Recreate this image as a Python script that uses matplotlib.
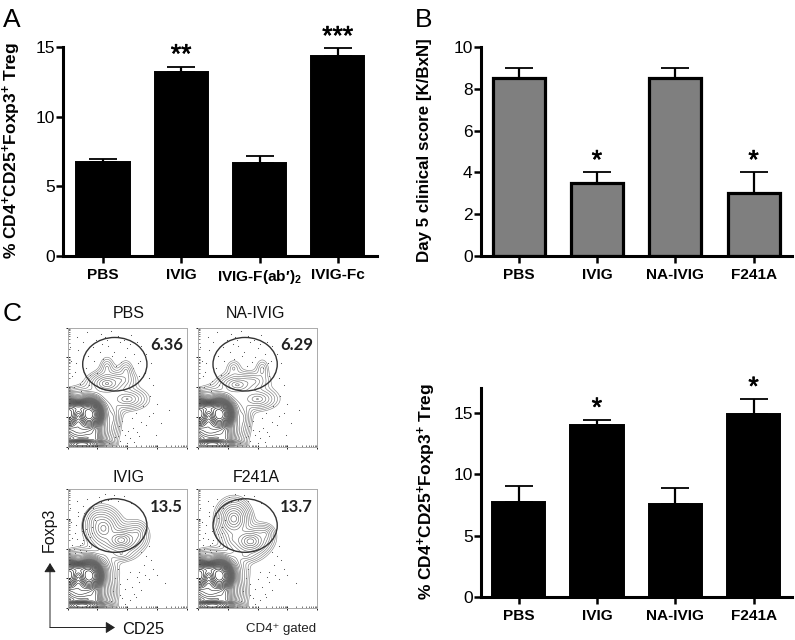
import numpy as np
import matplotlib
matplotlib.use("Agg")
import matplotlib.pyplot as plt
from matplotlib.patches import Ellipse
import matplotlib.patheffects as pe

plt.rcParams['font.family'] = ['Liberation Sans', 'DejaVu Sans']
plt.rcParams['mathtext.fontset'] = 'custom'
plt.rcParams['mathtext.rm'] = 'Liberation Sans:bold'
plt.rcParams['mathtext.bf'] = 'Liberation Sans:bold'
plt.rcParams['mathtext.default'] = 'rm'

W, H = 795, 640

# ---- bar data ----
a_labels = ["PBS", "IVIG", "IVIG-F(ab\u2032)$_{2}$", "IVIG-Fc"]
a_values = [6.75, 13.2, 6.65, 14.35]
a_errors = [0.2, 0.4, 0.5, 0.55]
a_stars = ["", "**", "", "***"]

b_labels = ["PBS", "IVIG", "NA-IVIG", "F241A"]
b_values = [8.5, 3.5, 8.5, 3.0]
b_errors = [0.5, 0.5, 0.5, 1.0]
b_stars = ["", "*", "", "*"]

d_labels = ["PBS", "IVIG", "NA-IVIG", "F241A"]
d_values = [7.7, 13.95, 7.55, 14.85]
d_errors = [1.3, 0.45, 1.35, 1.25]
d_stars = ["", "*", "", "*"]

# ---- flow panels: (x, y, sx, sy, amplitude) density peaks ----
neg_peaks = [(0.00, 0.27, 0.04, 0.045, 200), (0.18, 0.27, 0.04, 0.045, 200),
             (0.09, 0.32, 0.06, 0.025, 60), (0.10, 0.15, 0.08, 0.055, 14),
             (0.12, 0.02, 0.07, 0.018, 60), (0.22, 0.07, 0.035, 0.05, 5),
             (0.12, 0.30, 0.11, 0.075, 0.8), (0.17, 0.10, 0.09, 0.09, 0.8)]
pbs_peaks = [(0.33, 0.53, 0.09, 0.055, 0.6), (0.33, 0.66, 0.05, 0.08, 0.08),
             (0.49, 0.63, 0.05, 0.08, 0.08), (0.44, 0.56, 0.10, 0.055, 0.1),
             (0.50, 0.40, 0.11, 0.06, 0.25), (0.37, 0.24, 0.05, 0.09, 0.15)]
na_peaks = [(0.33, 0.52, 0.10, 0.055, 0.4), (0.30, 0.66, 0.06, 0.07, 0.05),
            (0.54, 0.65, 0.05, 0.08, 0.06), (0.46, 0.55, 0.10, 0.055, 0.1),
            (0.50, 0.40, 0.11, 0.06, 0.25), (0.37, 0.24, 0.05, 0.09, 0.15)]
ivig_peaks = [(0.45, 0.57, 0.08, 0.055, 1.2), (0.30, 0.67, 0.08, 0.09, 0.7),
              (0.58, 0.62, 0.07, 0.08, 0.15), (0.24, 0.74, 0.06, 0.07, 0.08),
              (0.45, 0.45, 0.10, 0.05, 0.08), (0.30, 0.34, 0.04, 0.08, 0.15)]
f241_peaks = [(0.30, 0.75, 0.07, 0.08, 1.2), (0.44, 0.56, 0.08, 0.06, 1.2),
              (0.56, 0.62, 0.06, 0.06, 0.15), (0.30, 0.58, 0.08, 0.08, 0.1),
              (0.40, 0.44, 0.10, 0.05, 0.08), (0.30, 0.34, 0.04, 0.08, 0.15)]

top_dots_x = [0.03,0.06,0.09,0.12,0.05,0.15,0.08,0.02,0.11,0.17,0.04,0.13,0.07,0.19,0.10,0.16,0.21,0.24,0.18,0.28,
              0.31,0.36,0.42,0.47,0.53,0.58,0.62,0.66,0.70,0.34,0.39,0.44,0.50,0.56,0.61,0.65,0.27,0.30,0.37,0.45,
              0.52,0.59,0.64,0.68,0.33,0.41,0.48,0.55,0.60,0.25,0.29,0.22,0.72,0.69,0.75,0.63,0.57,0.46,0.43,0.51,
              0.40,0.48,0.55,0.62,0.68,0.44,0.52,0.58,0.72,0.60,0.50,0.66,0.46,0.56,0.78,0.35,0.54,0.74,0.85,0.42]
top_dots_y = [0.72,0.63,0.81,0.55,0.50,0.66,0.92,0.84,0.47,0.76,0.59,0.88,0.70,0.60,0.53,0.96,0.84,0.90,0.52,0.95,
              0.92,0.97,0.93,0.90,0.94,0.88,0.85,0.78,0.70,0.85,0.80,0.88,0.83,0.78,0.72,0.62,0.80,0.74,0.76,0.71,
              0.86,0.70,0.79,0.58,0.90,0.68,0.75,0.66,0.59,0.62,0.86,0.72,0.52,0.43,0.36,0.34,0.28,0.22,0.17,0.13,
              0.08,0.10,0.16,0.21,0.26,0.05,0.07,0.12,0.28,0.09,0.03,0.18,0.14,0.04,0.20,0.03,0.24,0.10,0.31,0.09]
bot_dots_x = [0.03,0.06,0.09,0.12,0.05,0.15,0.08,0.02,0.11,0.17,0.04,0.13,0.07,0.19,0.10,0.16,0.21,0.24,0.18,0.14,
              0.26,0.31,0.36,0.42,0.47,0.53,0.20,0.23,0.28,0.34,0.39,0.66,0.68,0.70,0.64,0.62,0.72,0.60,0.58,0.65,
              0.40,0.44,0.48,0.52,0.56,0.60,0.42,0.46,0.50,0.54,0.62,0.38,0.36,0.44,0.52,0.68,0.75,0.48,0.57,0.82,
              0.10,0.13,0.17,0.06,0.08,0.12,0.15,0.20,0.04,0.09]
bot_dots_y = [0.72,0.63,0.81,0.55,0.50,0.66,0.90,0.84,0.47,0.76,0.59,0.86,0.70,0.60,0.53,0.92,0.84,0.88,0.52,0.80,
              0.93,0.96,0.92,0.90,0.94,0.88,0.68,0.74,0.89,0.91,0.95,0.44,0.52,0.40,0.36,0.47,0.33,0.30,0.26,0.28,
              0.25,0.20,0.16,0.30,0.12,0.22,0.33,0.08,0.24,0.18,0.15,0.14,0.06,0.11,0.07,0.24,0.28,0.03,0.09,0.21,
              0.49,0.57,0.62,0.46,0.58,0.65,0.48,0.63,0.53,0.77]

flow_titles = ["PBS", "NA-IVIG", "IVIG", "F241A"]
flow_gate_pct = ["6.36", "6.29", "13.5", "13.7"]
flow_major_ticks = [0.0, 0.25, 0.5, 0.75, 1.0]
flow_minor_ticks = [0.075, 0.12, 0.155, 0.18, 0.2, 0.215, 0.23, 0.24]


def px_axes(x0, y0, x1, y1):
    return fig.add_axes([x0 / W, 1 - y1 / H, (x1 - x0) / W, (y1 - y0) / H])


def ftext(x, y, s, **kw):
    return fig.text(x / W, 1 - y / H, s, **kw)


def bar_panel(box, labels, values, errors, stars, ymax, yticks, xlim, fc, ylabel, ylab_xy, star_off):
    ax = px_axes(*box)
    pos = np.arange(len(values))
    if fc == 'black':
        ax.bar(pos, values, width=0.68, color=fc, edgecolor='black', linewidth=1.4, zorder=2)
    else:
        ax.bar(pos, values, width=0.665, color=fc, edgecolor='black', linewidth=2.3, zorder=2)
    ax.errorbar(pos, values, yerr=[np.zeros(len(errors)), errors], fmt='none', ecolor='black',
                elinewidth=1.6, capsize=10, capthick=1.3, zorder=1)
    for p, v, e, s in zip(pos, values, errors, stars):
        if s:
            t = ax.annotate(s, (p, v + e), xytext=(0, star_off), textcoords='offset points', ha='center',
                            va='center', fontsize=19, fontweight='normal', annotation_clip=False)
            t.set_path_effects([pe.withStroke(linewidth=0.5, foreground='black')])
    ax.set_xlim(*xlim)
    ax.set_ylim(0, ymax)
    ax.set_yticks(yticks)
    ax.set_xticks(pos)
    ax.set_xticklabels(labels, fontweight='bold', fontsize=11.1)
    ax.tick_params(axis='y', length=5, width=1.8, labelsize=12.5, pad=1)
    ax.tick_params(axis='x', length=5, width=1.8, pad=3.5)
    for sp in ('top', 'right'):
        ax.spines[sp].set_visible(False)
    for sp in ('left', 'bottom'):
        ax.spines[sp].set_linewidth(2.2)
    ftext(ylab_xy[0], ylab_xy[1], ylabel, rotation=90, ha='center', va='center',
          fontsize=ylab_xy[2], fontweight='bold')
    return ax


def flow_panel(box, peaks, dots_x, dots_y, title, pct, title_xy, pct_xy):
    ax = px_axes(*box)
    xs = np.linspace(0, 1, 400)
    ys = np.linspace(0, 1, 400)
    X, Y = np.meshgrid(xs, ys)
    Z = np.zeros_like(X)
    for (px, py, sx, sy, amp) in neg_peaks:
        Z += amp * np.exp(-0.5 * ((X - px) / sx) ** 2 - 0.5 * ((Y - py) / sy) ** 2)
    for (px, py, sx, sy, amp) in peaks:
        d = np.sqrt(((X - px) / sx) ** 2 + ((Y - py) / sy) ** 2)
        Z += amp * np.exp(-1.5 * d ** 1.2)
    levels = np.concatenate([np.geomspace(0.014, 1.2, 12), np.geomspace(1.7, 150, 17)])
    shades = [str(g) for g in np.linspace(0.5, 0.05, len(levels))]
    ax.contour(X, Y, Z, levels=levels, colors=shades, linewidths=0.42, zorder=2)
    ax.scatter(dots_x, dots_y, s=0.6, c='#444444', linewidths=0, zorder=1)
    ax.add_patch(Ellipse((0.396, 0.693), 0.54, 0.45, fill=False, ec='#333333', lw=1.0, zorder=3))
    ax.set_xlim(0, 1)
    ax.set_ylim(0, 1)
    majors = list(flow_major_ticks)
    minors = [m + k for k in (0, 0.25, 0.5, 0.75) for m in flow_minor_ticks]
    ax.set_xticks(majors)
    ax.set_yticks(majors)
    ax.set_xticks(minors, minor=True)
    ax.set_yticks(minors, minor=True)
    ax.set_xticklabels([])
    ax.set_yticklabels([])
    ax.tick_params(which='major', length=2.5, width=0.7, color='#222222', direction='inout')
    ax.tick_params(which='minor', length=1.2, width=0.5, color='#444444', direction='in')
    for sp in ax.spines.values():
        sp.set_linewidth(0.7)
        sp.set_color('#aaaaaa')
    ftext(title_xy[0], title_xy[1], title, ha='center', va='center', fontsize=11.5, color='#111111',
          fontweight='normal')
    ftext(pct_xy[0], pct_xy[1], pct, ha='center', va='center', fontsize=12, fontweight='bold',
          family=['Lato', 'DejaVu Sans'], color='#222222')
    return ax


fig = plt.figure(figsize=(W / 100, H / 100), dpi=100)

treg = "% CD4$^{+}$CD25$^{+}$Foxp3$^{+}$ Treg"
bar_panel((63, 47, 377, 256), a_labels, a_values, a_errors, a_stars, 15, [0, 5, 10, 15],
          (-0.51, 3.5), 'black', treg, (12, 150, 12.5), 8)
bar_panel((481, 47, 792, 256), b_labels, b_values, b_errors, b_stars, 10, [0, 2, 4, 6, 8, 10],
          (-0.48, 3.49), '#7f7f7f', "Day 5 clinical score [K/BxN]", (425, 150, 12.2), 8)
bar_panel((481, 388, 792, 597), d_labels, d_values, d_errors, d_stars, 17, [0, 5, 10, 15],
          (-0.48, 3.49), 'black', treg, (427, 491, 12.5), 8)

flow_panel((67.7, 327.7, 186.7, 446.7), pbs_peaks, top_dots_x, top_dots_y, flow_titles[0], flow_gate_pct[0],
           (129, 314), (166.5, 345.5))
flow_panel((198, 327.7, 317, 446.7), na_peaks, top_dots_x, top_dots_y, flow_titles[1], flow_gate_pct[1],
           (255.5, 314), (296.5, 345.5))
flow_panel((67.7, 489, 186.7, 608), ivig_peaks, bot_dots_x, bot_dots_y, flow_titles[2], flow_gate_pct[2],
           (129, 478), (166.5, 506.5))
flow_panel((198, 489, 317, 608), f241_peaks, bot_dots_x, bot_dots_y, flow_titles[3], flow_gate_pct[3],
           (256.5, 478), (296.5, 506.5))

# panel letters
ftext(3, 27, "A", fontsize=19, va='baseline', ha='left')
ftext(415, 27, "B", fontsize=19, va='baseline', ha='left')
ftext(3, 321, "C", fontsize=19, va='baseline', ha='left')

# axis annotations of flow panels
ftext(49, 530, "Foxp3", rotation=90, ha='center', va='center', fontsize=11.5, color='#111111')
ftext(122, 629, "CD25", ha='left', va='center', fontsize=11.9, color='#111111')
ftext(316, 629, "CD4\u207a gated", ha='right', va='center', fontsize=9.5, color='#222222')
for tip in ((50, 563), (115, 627.5)):
    fig.add_artist(matplotlib.patches.FancyArrowPatch(
        (50 / W, 1 - 627.5 / H), (tip[0] / W, 1 - tip[1] / H), transform=fig.transFigure,
        arrowstyle='-|>,head_length=3.5,head_width=2.2', mutation_scale=1.6, color='#222222', lw=0.7,
        shrinkA=0, shrinkB=0))

fig.savefig("out.png", dpi=100)
